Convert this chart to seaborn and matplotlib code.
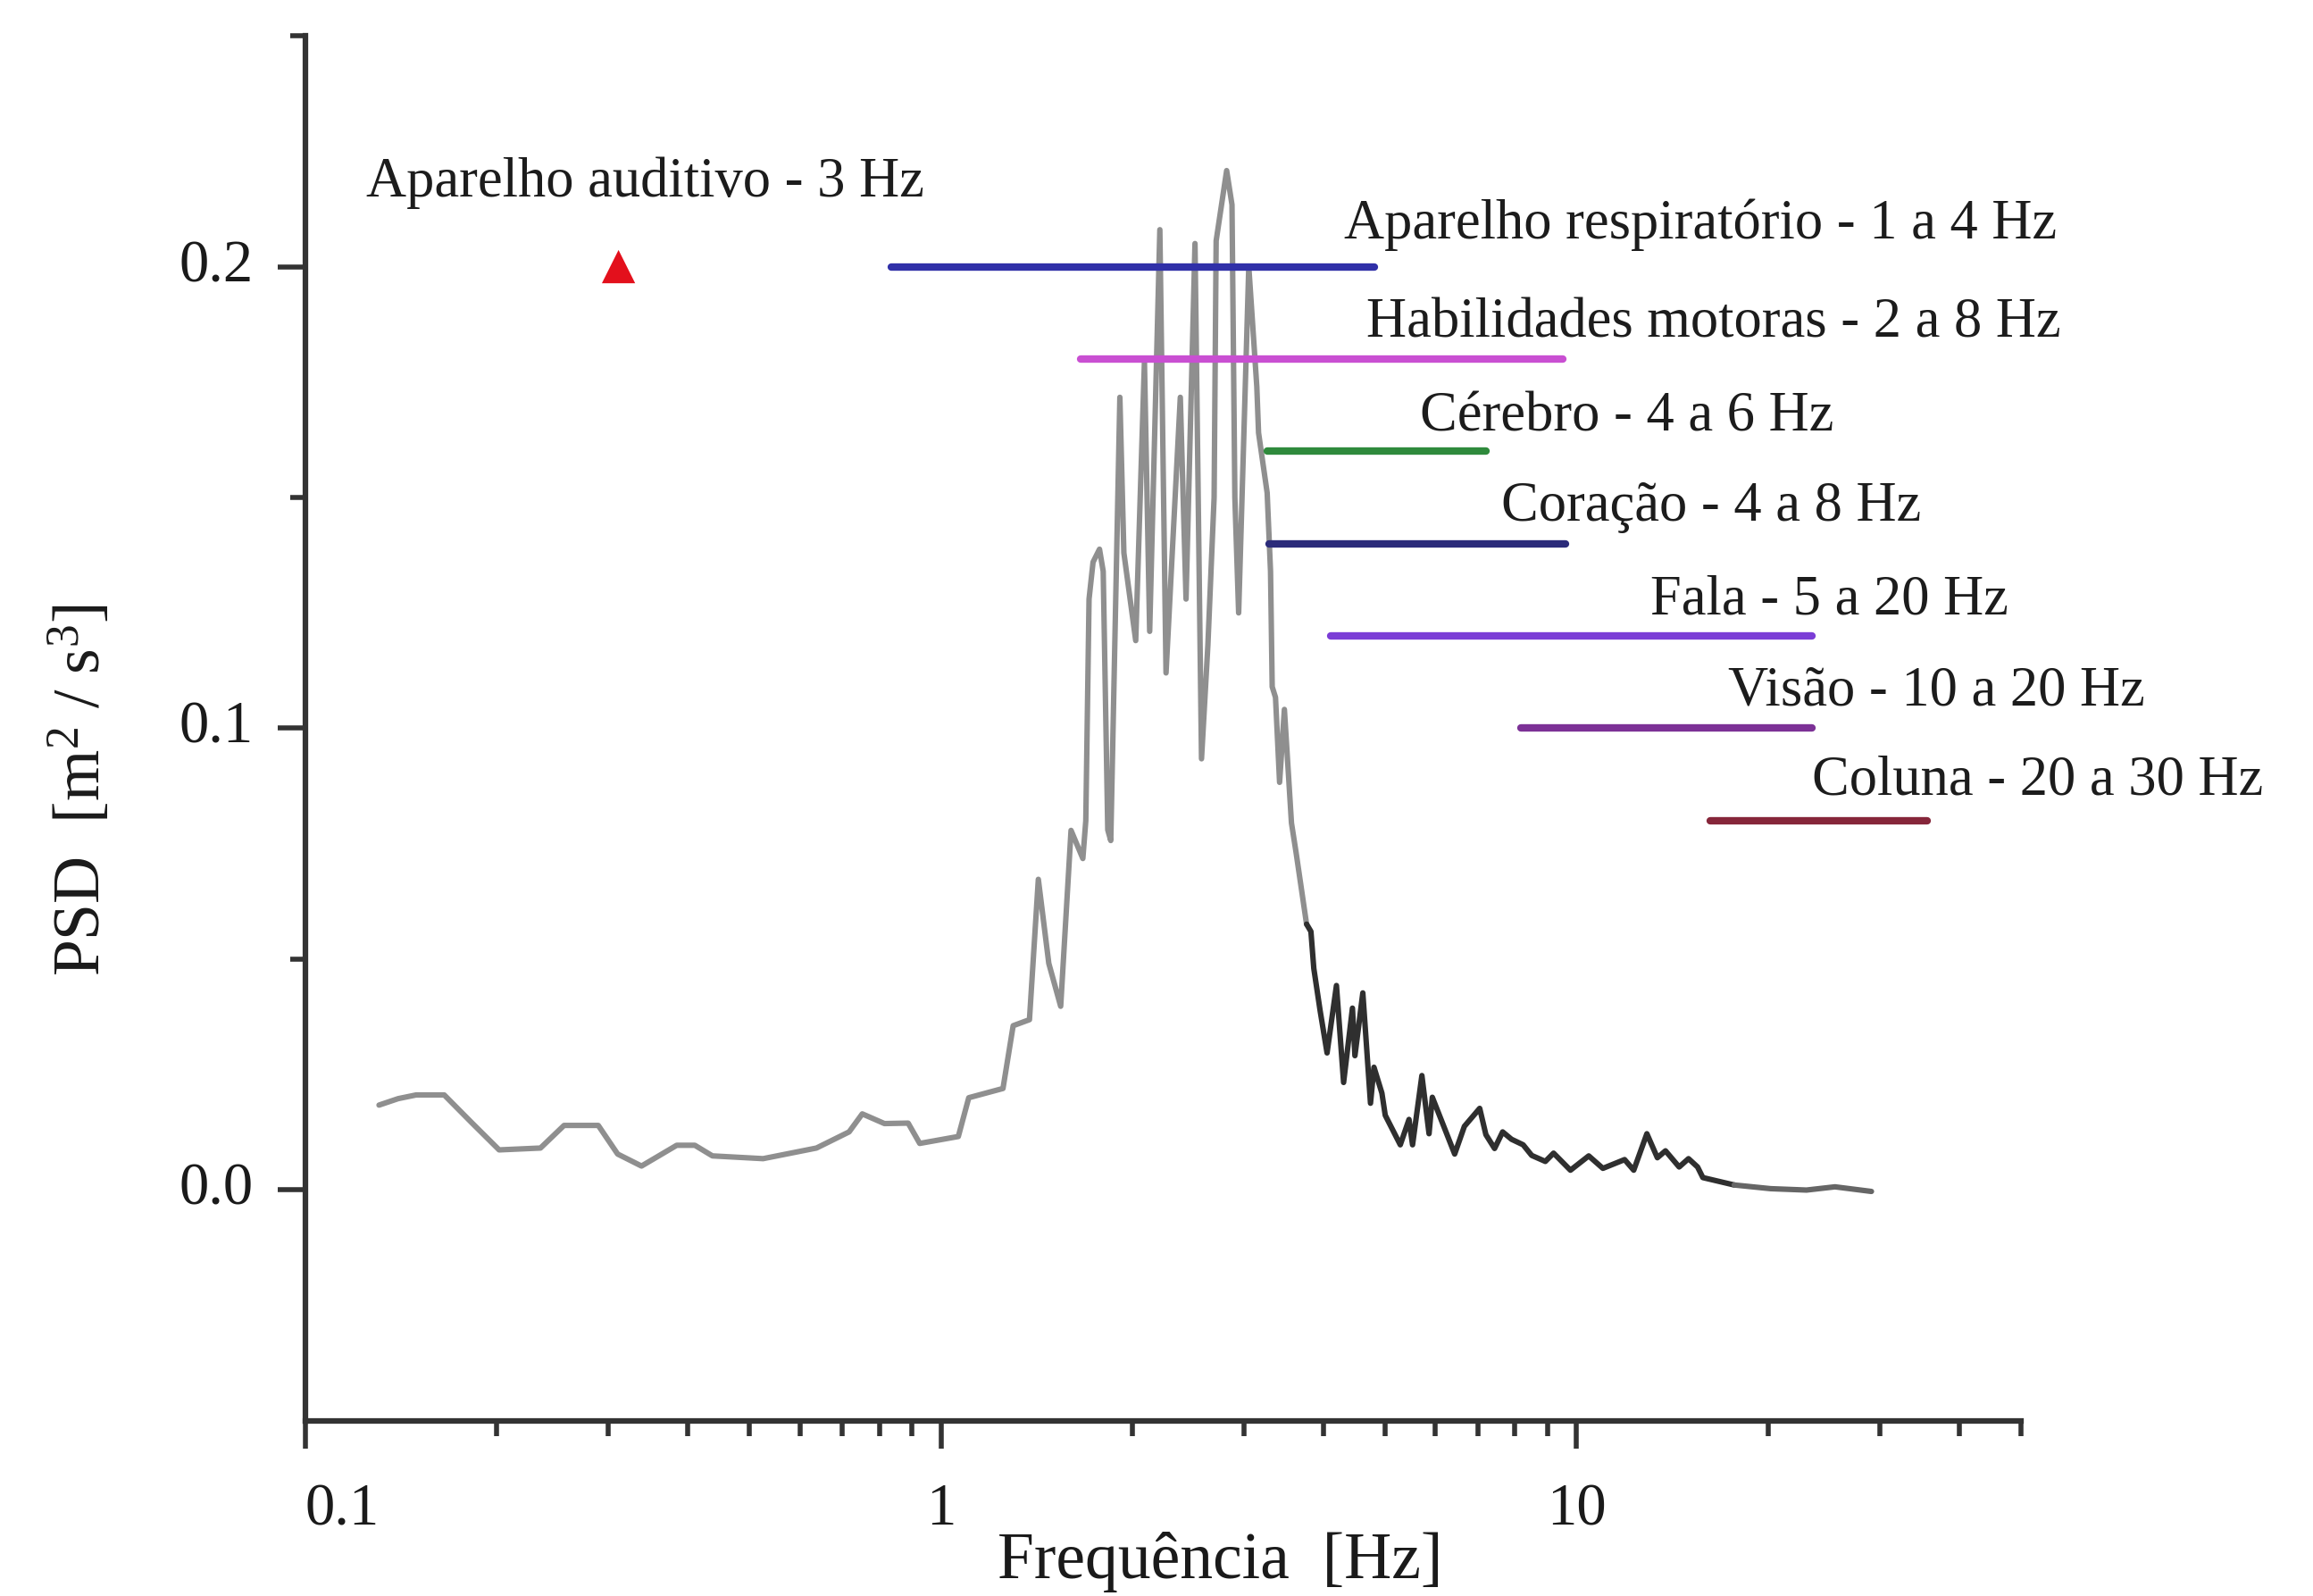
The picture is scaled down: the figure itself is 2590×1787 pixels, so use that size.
import numpy as np
import pandas as pd
import matplotlib
matplotlib.use("Agg")
import matplotlib.pyplot as plt
import seaborn as sns
from matplotlib.ticker import FixedLocator, FixedFormatter, LogLocator, NullFormatter

# ---------------- data ----------------
freq_hz = [0.1306, 0.140, 0.1494, 0.1654, 0.183, 0.2018, 0.2344, 0.2553, 0.289, 0.310,
           0.338, 0.384, 0.410, 0.437, 0.525, 0.637, 0.717, 0.752, 0.815, 0.888,
           0.926, 1.065, 1.106, 1.252, 1.299, 1.378, 1.423, 1.478, 1.543, 1.602,
           1.672, 1.690, 1.710, 1.735, 1.776, 1.800, 1.830, 1.850, 1.912, 1.940,
           2.025, 2.090, 2.130, 2.210, 2.260, 2.380, 2.430, 2.510, 2.570, 2.630,
           2.690, 2.710, 2.815, 2.870, 2.900, 2.940, 3.050, 3.140, 3.160, 3.260,
           3.300, 3.320, 3.360, 3.410, 3.470, 3.560, 3.620, 3.760, 3.820, 3.860,
           3.950, 4.050, 4.190, 4.300, 4.440, 4.480, 4.610, 4.740, 4.800, 4.940,
           5.000, 5.280, 5.450, 5.520, 5.710, 5.860, 5.930, 6.430, 6.660, 7.040,
           7.200, 7.430, 7.650, 7.900, 8.240, 8.500, 8.930, 9.200, 9.780, 10.45,
           11.00, 11.90, 12.30, 12.90, 13.40, 13.80, 14.50, 15.00, 15.50, 15.80,
           17.70, 20.20, 23.00, 25.50, 29.10]
psd = [0.0184, 0.0198, 0.0206, 0.0206, 0.0145, 0.0087, 0.0091, 0.0140, 0.0140, 0.0078,
       0.0052, 0.0097, 0.0097, 0.0074, 0.0068, 0.0091, 0.0126, 0.0165, 0.0144, 0.0145,
       0.0101, 0.0116, 0.0200, 0.0220, 0.0356, 0.0369, 0.0673, 0.0491, 0.0398, 0.0779,
       0.0718, 0.0800, 0.1280, 0.1360, 0.1388, 0.1340, 0.0780, 0.0757, 0.1717, 0.1380,
       0.1190, 0.1794, 0.1210, 0.2080, 0.1120, 0.1717, 0.1280, 0.2050, 0.0934, 0.1180,
       0.1500, 0.2056, 0.2208, 0.2134, 0.1500, 0.1250, 0.2000, 0.1740, 0.1640, 0.1510,
       0.1340, 0.1090, 0.1067, 0.0883, 0.1041, 0.0795, 0.0731, 0.0576, 0.0560, 0.0480,
       0.0388, 0.0297, 0.0443, 0.0233, 0.0394, 0.0291, 0.0427, 0.0188, 0.0266, 0.0210,
       0.0162, 0.0098, 0.0153, 0.0098, 0.0248, 0.0122, 0.0201, 0.0078, 0.0138, 0.0177,
       0.0120, 0.0090, 0.0126, 0.0110, 0.0098, 0.0075, 0.0062, 0.0080, 0.0043, 0.0074,
       0.0047, 0.0066, 0.0043, 0.0122, 0.0070, 0.0085, 0.0050, 0.0068, 0.0050, 0.0027,
       0.0011, 0.0003, 0.0000, 0.0007, -0.0003]

band_labels = ["Aparelho respiratório - 1 a 4 Hz", "Habilidades motoras - 2 a 8 Hz",
               "Cérebro - 4 a 6 Hz", "Coração - 4 a 8 Hz", "Fala - 5 a 20 Hz",
               "Visão - 10 a 20 Hz", "Coluna - 20 a 30 Hz"]
band_lo = [0.834, 1.658, 3.26, 3.28, 4.10, 8.18, 16.2]
band_hi = [4.80, 9.51, 7.21, 9.60, 23.5, 23.5, 35.6]
band_level = [0.200, 0.180, 0.160, 0.140, 0.120, 0.100, 0.080]
band_colors = ["#3030a8", "#c94fd2", "#2f8a3c", "#2b2b7a", "#7b3dd6", "#7c3196", "#86263a"]
label_x = [4.30, 4.67, 5.67, 7.62, 13.08, 17.33, 23.5]
label_y = [0.2060, 0.1847, 0.1644, 0.1449, 0.1248, 0.1050, 0.0857]

hearing_label = "Aparelho auditivo - 3 Hz"
hearing_freq = [0.311]
hearing_level = [0.200]
hearing_label_x = 0.1245
hearing_label_y = 0.2151

x_ticks = [0.1, 1, 10]
x_ticklabels = ["0.1", "1", "10"]
y_ticks = [0.0, 0.1, 0.2]
y_ticklabels = ["0.0", "0.1", "0.2"]
y_minor = [0.05, 0.15, 0.25]

# ---------------- figure ----------------
sns.set_theme(style="ticks")
plt.rcParams["font.family"] = ["Liberation Serif", "DejaVu Serif"]
plt.rcParams["mathtext.fontset"] = "custom"
plt.rcParams["mathtext.rm"] = "Liberation Serif"
plt.rcParams["mathtext.it"] = "Liberation Serif:italic"
plt.rcParams["mathtext.bf"] = "Liberation Serif:bold"

fig = plt.figure(figsize=(25.9, 17.87), dpi=100)
ax = fig.add_axes([0.132, 0.1097, 0.7417, 0.8679])
ax.set_xscale("log")

df = pd.DataFrame({"freq": freq_hz, "psd": psd})
f = df["freq"]
segA = df[f <= 3.76].assign(seg="a")
segB = df[(f >= 3.76) & (f <= 17.7)].assign(seg="b")
segC = df[f >= 17.7].assign(seg="c")
curve = pd.concat([segA, segB, segC], ignore_index=True)
sns.lineplot(data=curve, x="freq", y="psd", hue="seg", units="seg",
             palette={"a": "#8f8f8f", "b": "#2f2f2f", "c": "#666666"},
             estimator=None, sort=False, legend=False, linewidth=4.4, ax=ax)

for lo, hi, lvl, col in zip(band_lo, band_hi, band_level, band_colors):
    sns.lineplot(x=[lo, hi], y=[lvl, lvl], color=col, linewidth=6.0,
                 solid_capstyle="round", ax=ax)

for lab, lx, ly in zip(band_labels, label_x, label_y):
    ax.text(lx, ly, lab, fontsize=45, ha="left", va="baseline",
            color="#1c1c1c", clip_on=False)

sns.scatterplot(x=hearing_freq, y=hearing_level, marker="^", s=720,
                color="#e3101c", edgecolor="none", ax=ax, zorder=5)
ax.text(hearing_label_x, hearing_label_y, hearing_label, fontsize=45,
        ha="left", va="baseline", color="#1c1c1c")

# ---------------- axes ----------------
ax.set_xlim(0.1, 50)
ax.set_ylim(-0.05, 0.25)
ax.xaxis.set_major_locator(FixedLocator(x_ticks))
ax.xaxis.set_major_formatter(FixedFormatter(x_ticklabels))
ax.xaxis.set_minor_locator(LogLocator(base=10, subs=np.arange(2, 10), numticks=100))
ax.xaxis.set_minor_formatter(NullFormatter())
ax.yaxis.set_major_locator(FixedLocator(y_ticks))
ax.yaxis.set_major_formatter(FixedFormatter(y_ticklabels))
ax.yaxis.set_minor_locator(FixedLocator(y_minor))

ax.tick_params(axis="both", which="major", length=22, width=4, color="#333333",
               labelsize=48, labelcolor="#1a1a1a", direction="out")
ax.tick_params(axis="both", which="minor", length=12.5, width=4, color="#333333",
               direction="out")
ax.tick_params(axis="x", which="major", pad=28)
ax.tick_params(axis="y", which="major", pad=20)

sns.despine(ax=ax)
for side in ("left", "bottom"):
    ax.spines[side].set_linewidth(4.5)
    ax.spines[side].set_color("#333333")

ax.xaxis.get_major_ticks()[0].label1.set_horizontalalignment("left")
for t in ax.yaxis.get_major_ticks():
    t.label1.set_verticalalignment("center")

ax.set_xlabel("Frequência  [Hz]", fontsize=53, color="#1a1a1a", va="baseline")
ax.xaxis.set_label_coords(0.533, -0.1135)
ax.set_ylabel("PSD  [m$^{2}$ / s$^{3}$]", fontsize=53, color="#1a1a1a", va="baseline")
ax.yaxis.set_label_coords(-0.1197, 0.4555)

ax.grid(False)
fig.savefig("out.png", dpi=100, facecolor="white")
